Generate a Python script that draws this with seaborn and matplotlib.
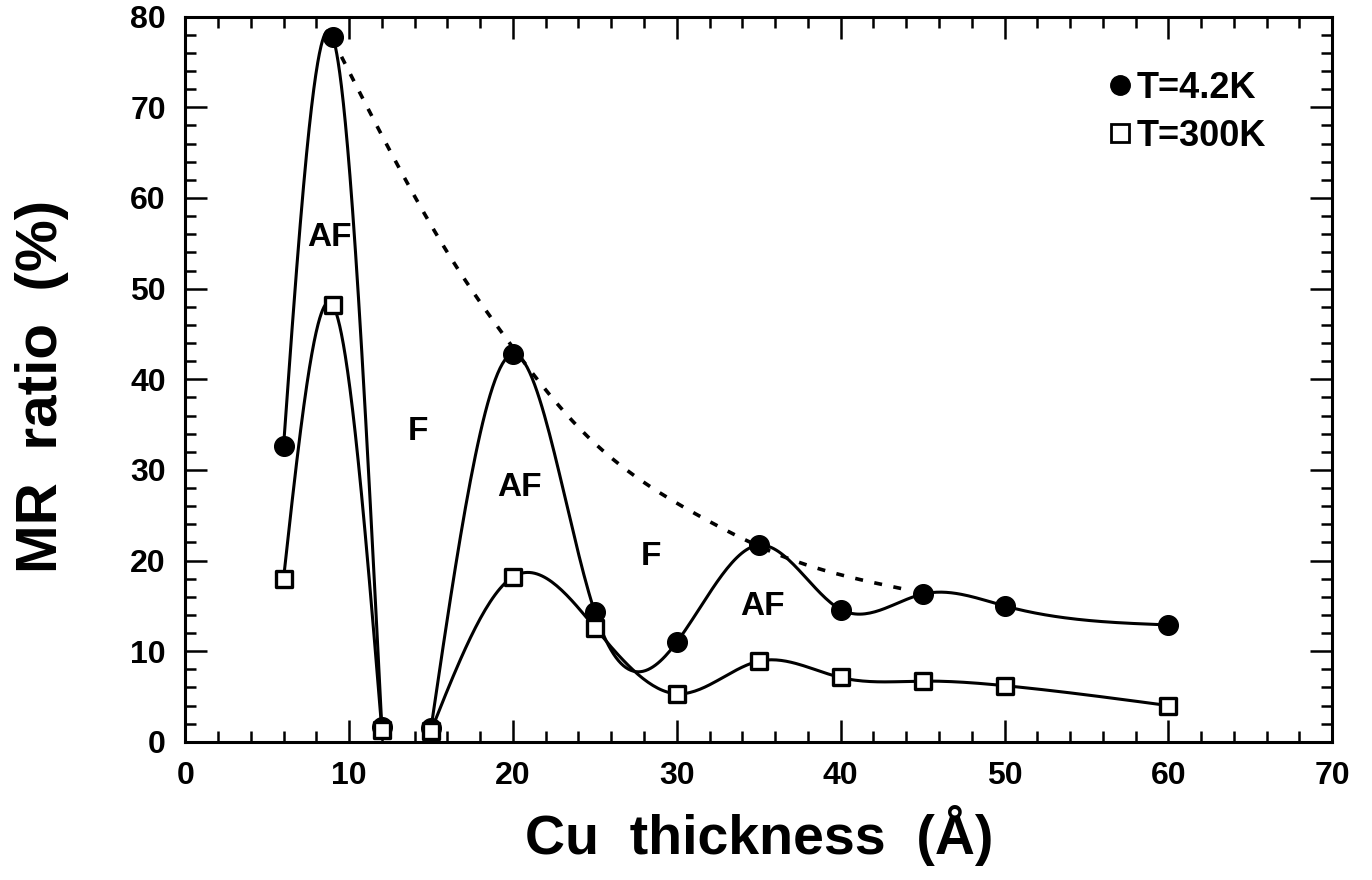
import numpy as np
import pandas as pd
import matplotlib
matplotlib.use("Agg")
import matplotlib.pyplot as plt
from matplotlib.lines import Line2D
import seaborn as sns

# ---- data ----
cu_thickness = [6, 9, 12, 15, 20, 25, 30, 35, 40, 45, 50, 60]
mr_4k = [32.6, 77.8, 1.6, 1.5, 42.8, 14.3, 11.0, 21.7, 14.6, 16.3, 15.0, 12.9]
mr_300k = [18.0, 48.2, 1.3, 1.2, 18.2, 12.6, 5.3, 8.9, 7.1, 6.7, 6.2, 4.0]

# dashed envelope of the 4.2 K maxima
env_x = [9, 13, 16, 20, 24, 31, 37, 40.5, 44]
env_y = [77.5, 63.5, 54.0, 43.5, 34.7, 25.3, 20.1, 18.2, 16.8]

# region labels
region_text = ["AF", "F", "AF", "F", "AF"]
region_x = [8.8, 14.2, 20.4, 28.4, 35.2]
region_y = [55.6, 34.2, 28.1, 20.4, 14.9]

x_ticks = [0, 10, 20, 30, 40, 50, 60, 70]
y_ticks = [0, 10, 20, 30, 40, 50, 60, 70, 80]


def natural_spline(x, y, n=300):
    x = np.asarray(x, float)
    y = np.asarray(y, float)
    k = len(x)
    h = np.diff(x)
    A = np.zeros((k, k))
    r = np.zeros(k)
    A[0, 0] = A[-1, -1] = 1.0
    for i in range(1, k - 1):
        A[i, i - 1] = h[i - 1]
        A[i, i] = 2 * (h[i - 1] + h[i])
        A[i, i + 1] = h[i]
        r[i] = 3 * ((y[i + 1] - y[i]) / h[i] - (y[i] - y[i - 1]) / h[i - 1])
    c = np.linalg.solve(A, r)
    b = (y[1:] - y[:-1]) / h - h * (2 * c[:-1] + c[1:]) / 3
    d = (c[1:] - c[:-1]) / (3 * h)
    xs = np.linspace(x[0], x[-1], n)
    idx = np.clip(np.searchsorted(x, xs) - 1, 0, k - 2)
    dx = xs - x[idx]
    ys = y[idx] + b[idx] * dx + c[idx] * dx ** 2 + d[idx] * dx ** 3
    return xs, ys


sns.set_style("ticks")
plt.rcParams["font.family"] = ["Liberation Sans", "DejaVu Sans"]
plt.rcParams["font.weight"] = "bold"
plt.rcParams["text.color"] = "black"
plt.rcParams["axes.labelcolor"] = "black"
plt.rcParams["xtick.color"] = "black"
plt.rcParams["ytick.color"] = "black"

fig = plt.figure(figsize=(13.72, 8.8), dpi=100)
ax = fig.add_axes([0.135, 0.157, 0.836, 0.824])

lw = 2.2
segments = [slice(0, 3), slice(3, None)]
for series in (mr_4k, mr_300k):
    xs_arr = np.array(cu_thickness, float)
    ys_arr = np.array(series, float)
    for seg in segments:
        sx, sy = natural_spline(xs_arr[seg], ys_arr[seg])
        sns.lineplot(x=sx, y=sy, ax=ax, color="black", lw=lw,
                     sort=False, estimator=None, legend=False)

ex, ey = natural_spline(env_x, env_y)
sns.lineplot(x=ex, y=ey, ax=ax, color="black", lw=2.6,
             linestyle=(0, (2.2, 3.2)), sort=False, estimator=None, legend=False)

df4 = pd.DataFrame({"x": cu_thickness, "y": mr_4k})
df3 = pd.DataFrame({"x": cu_thickness, "y": mr_300k})
sns.scatterplot(data=df4, x="x", y="y", ax=ax, marker="o", s=200,
                color="black", edgecolor="black", linewidth=1, zorder=5, legend=False)
sns.scatterplot(data=df3, x="x", y="y", ax=ax, marker="s", s=125,
                facecolor="white", edgecolor="black", linewidth=2.4, zorder=6, legend=False)

for t, xx, yy in zip(region_text, region_x, region_y):
    ax.text(xx, yy, t, fontsize=24, fontweight="bold", ha="center", va="center",
            color="black")

ax.set_xlim(0, 70)
ax.set_ylim(0, 80)
ax.set_xticks(x_ticks)
ax.set_xticklabels([str(v) for v in x_ticks])
ax.set_yticks(y_ticks)
ax.set_yticklabels([str(v) for v in y_ticks])
ax.set_xticks(np.arange(0, 71, 2), minor=True)
ax.set_yticks(np.arange(0, 81, 2), minor=True)
ax.tick_params(which="both", direction="in", top=True, right=True, width=1.8,
               colors="black")
ax.tick_params(which="major", length=16, pad=14, labelsize=23)
ax.tick_params(which="minor", length=8)
for lab in ax.get_xticklabels() + ax.get_yticklabels():
    lab.set_fontweight("bold")
for sp in ax.spines.values():
    sp.set_linewidth(2.2)
    sp.set_color("black")
    sp.set_visible(True)

ax.set_xlabel("Cu  thickness  (Å)", fontsize=40, fontweight="bold", labelpad=10)
ax.set_ylabel("MR  ratio  (%)", fontsize=42, fontweight="bold")
ax.yaxis.set_label_coords(-0.101, 0.49)

handles = [
    Line2D([], [], marker="o", linestyle="none", color="black", markersize=14),
    Line2D([], [], marker="s", linestyle="none", markerfacecolor="white",
           markeredgecolor="black", markeredgewidth=2, markersize=13),
]
ax.legend(handles, ["T=4.2K", "T=300K"], loc="upper right",
          bbox_to_anchor=(0.958, 0.95), frameon=False, handlelength=0.6,
          handletextpad=0.15, labelspacing=0.35, borderpad=0,
          prop={"size": 26, "weight": "bold"})

fig.savefig("out.png", dpi=100)
